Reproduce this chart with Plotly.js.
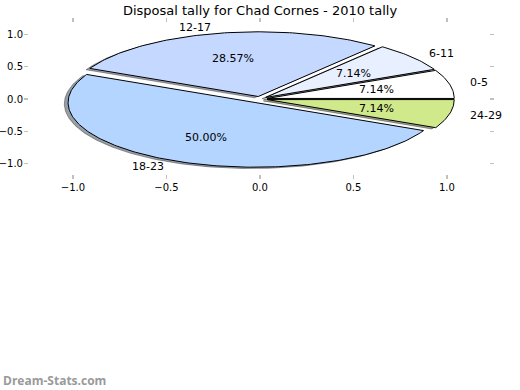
<!DOCTYPE html>
<html>
<head>
<meta charset="utf-8">
<script src="https://cdn.plot.ly/plotly-3.0.1.min.js"></script>
<style>html,body{margin:0;padding:0;background:#fff;}#chart{width:520px;height:390px;}</style>
</head>
<body>
<div id="chart"></div>
<script>
// Data
const labels = ['0-5', '6-11', '12-17', '18-23', '24-29'];
const values = [1, 1, 4, 7, 1];
const colors = ['#ffffff', '#e8f0ff', '#c5d8ff', '#b4d5ff', '#d0e98b'];
const explode = [0.04, 0.04, 0.04, 0.06, 0.04];
const xTicks = [-1.0, -0.5, 0.0, 0.5, 1.0];
const yTicks = [-1.0, -0.5, 0.0, 0.5, 1.0];
const titleText = 'Disposal tally for Chad Cornes - 2010 tally';

const total = values.reduce((a, b) => a + b, 0);
const deg = Math.PI / 180;

function wedgePath(cx, cy, a1, a2) {
  const xs = [cx], ys = [cy];
  const n = Math.max(4, Math.ceil((a2 - a1) / 1));
  for (let i = 0; i <= n; i++) {
    const a = (a1 + (a2 - a1) * i / n) * deg;
    xs.push(cx + Math.cos(a));
    ys.push(cy + Math.sin(a));
  }
  xs.push(cx); ys.push(cy);
  return [xs, ys];
}

function hexToRgb(h) {
  return [parseInt(h.slice(1, 3), 16), parseInt(h.slice(3, 5), 16), parseInt(h.slice(5, 7), 16)];
}

const shadows = [], wedges = [], annotations = [];
let start = 0;
values.forEach((v, i) => {
  const span = v / total * 360;
  const a1 = start, a2 = start + span, mid = (a1 + a2) / 2;
  const cx = explode[i] * Math.cos(mid * deg);
  const cy = explode[i] * Math.sin(mid * deg);
  const [xs, ys] = wedgePath(cx, cy, a1, a2);
  const rgb = hexToRgb(colors[i]).map(c => Math.round(c * 0.3));
  const sc = 'rgba(' + rgb.join(',') + ',0.5)';
  shadows.push({
    type: 'scatter', mode: 'lines', x: xs.map(x => x - 0.02), y: ys.map(y => y - 0.02),
    fill: 'toself', fillcolor: sc, line: {color: sc, width: 1}, hoverinfo: 'skip', showlegend: false
  });
  wedges.push({
    type: 'scatter', mode: 'lines', x: xs, y: ys,
    fill: 'toself', fillcolor: colors[i], line: {color: '#000000', width: 1}, hoverinfo: 'skip', showlegend: false
  });
  const lx = cx + 1.1 * Math.cos(mid * deg), ly = cy + 1.1 * Math.sin(mid * deg);
  annotations.push({
    x: lx, y: ly, xref: 'x', yref: 'y', text: labels[i], showarrow: false,
    xanchor: lx > 0 ? 'left' : 'right', yanchor: 'middle',
    font: {family: 'DejaVu Sans', size: 11, color: '#000'}
  });
  const px = cx + 0.6 * Math.cos(mid * deg), py = cy + 0.6 * Math.sin(mid * deg);
  annotations.push({
    x: px, y: py, xref: 'x', yref: 'y', text: (v / total * 100).toFixed(2) + '%', showarrow: false,
    xanchor: 'center', yanchor: 'middle',
    font: {family: 'DejaVu Sans', size: 11, color: '#000'}
  });
  start = a2;
});

annotations.push({
  x: -28 / 460, y: (174 - 380) / 151, xref: 'paper', yref: 'paper', text: 'Dream-Stats.com',
  showarrow: false, xanchor: 'left', yanchor: 'middle',
  font: {family: 'Open Sans', size: 12, color: '#9a9a9a', weight: 'bold'}
});

const axisCommon = {
  showgrid: false, zeroline: false, showline: false,
  ticks: 'outside', ticklen: 4, tickwidth: 1.5, tickcolor: '#c0c0c0', mirror: 'ticks',
  tickformat: '.1f', tickfont: {family: 'DejaVu Sans', size: 10, color: '#000'}, fixedrange: true
};

const layout = {
  width: 520, height: 390,
  margin: {l: 29, r: 31, t: 23, b: 216, pad: 0},
  paper_bgcolor: '#ffffff', plot_bgcolor: '#ffffff',
  title: {text: titleText, font: {family: 'DejaVu Sans', size: 13, color: '#000'},
          x: 0.5, xanchor: 'center', y: 1 - 10 / 390, yanchor: 'middle', yref: 'container'},
  xaxis: Object.assign({}, axisCommon, {range: [-1.235, 1.225], tickvals: xTicks}),
  yaxis: Object.assign({}, axisCommon, {range: [-1.159, 1.175], tickvals: yTicks, ticklabelstandoff: -1}),
  annotations: annotations,
  showlegend: false
};

Plotly.newPlot('chart', shadows.concat(wedges), layout, {staticPlot: true, displayModeBar: false});
</script>
</body>
</html>
